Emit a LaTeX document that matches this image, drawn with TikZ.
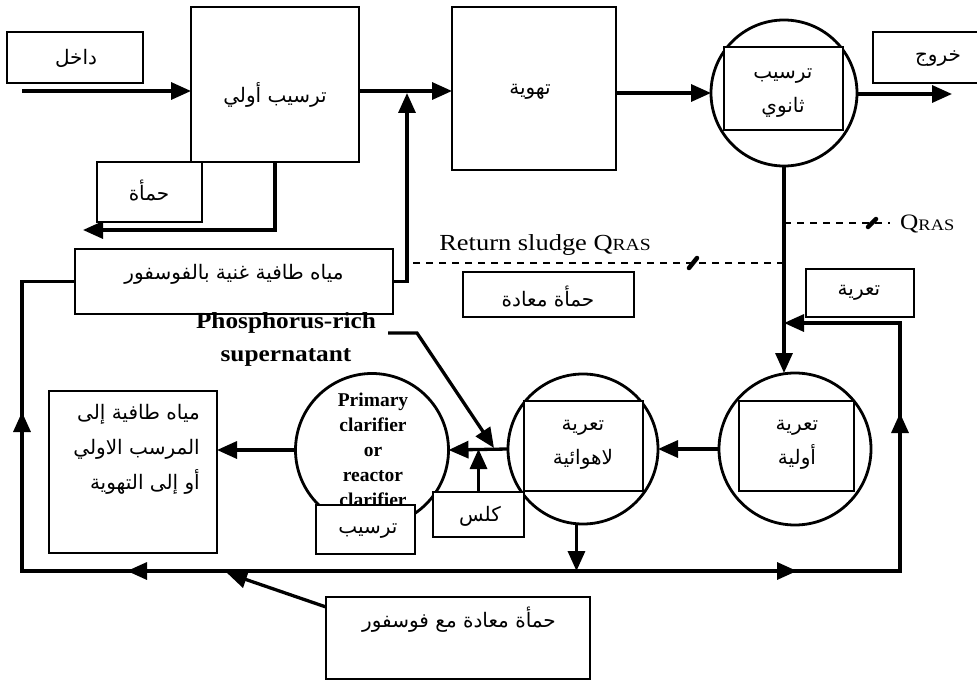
\documentclass[tikz,border=0pt]{standalone}
\usepackage{fontspec}
\usetikzlibrary{arrows.meta,calc}
\TeXXeTstate=1
\newfontfamily\arabicfont[Script=Arabic]{DejaVu Sans}
\newfontfamily\wideserif[FakeStretch=1.15]{Liberation Serif}
\newfontfamily\boldserif[FakeStretch=1.1]{Liberation Serif}
\newfontfamily\clarserif{Liberation Serif}
\newcommand\artxt[1]{\beginR #1\endR}

\tikzset{
  box/.style={draw, line width=1.7bp, fill=white, inner sep=0pt, outer sep=0pt},
  disc/.style={draw, circle, line width=2.8bp, inner sep=0pt, outer sep=0pt},
  wire/.style={line width=3.3bp},
  flow/.style={wire, -{Triangle[length=20bp,width=17bp]}},
  tiphead/.style={-{Triangle[length=20bp,width=17bp]}, line width=3.3bp},
  retline/.style={line width=2.8bp, dash pattern=on 7bp off 6bp},
  slash/.style={line width=4.5bp, line cap=round},
  ar/.style={font=\arabicfont\fontsize{20bp}{24bp}\selectfont, inner sep=0pt},
  ar2/.style={inner sep=0pt, align=center, font=\arabicfont\fontsize{20bp}{34bp}\selectfont},
}

\begin{document}
\begin{tikzpicture}[x=1bp, y=-1bp]
\useasboundingbox (0,0) rectangle (977,681);

% ---------- upper treatment line ----------
\node[box, minimum width=136bp, minimum height=51bp] (inlab) at (75,57.5) {};
\node[ar] (inlabt) at (76,58) {\artxt{داخل}};

\node[box, minimum width=168bp, minimum height=155bp] (prim) at (275,84.5) {};
\node[ar] (primt) at (275,95) {\artxt{ترسيب أولي}};

\node[box, minimum width=164bp, minimum height=163bp] (aer) at (534,88.5) {};
\node[ar] (aert) at (530,92) {\artxt{تهوية}};

\node[disc, minimum size=146bp] (sec) at (784,93) {};
\node[box, minimum width=119bp, minimum height=83bp] (secin) at (783.5,88.5) {};
\node[ar2] (sect) at (783,93) {\artxt{ترسيب}\\\artxt{ثانوي}};

\begin{scope}
  \clip (0,0) rectangle (977,681);
  \node[box, minimum width=130bp, minimum height=51bp] (outlab) at (938,57.5) {};
\end{scope}
\node[ar] (outlabt) at (938,59) {\artxt{خروج}};

% sludge box under the primary tank
\node[box, minimum width=105bp, minimum height=60bp] (sludge) at (149.5,192) {};
\node[ar] (sludget) at (149,191) {\artxt{حمأة}};

% main flow arrows
\coordinate (inS) at (22,91);
\coordinate (jP) at (407,93);
\coordinate (outE) at (952,94);
\draw[flow] (inS) -- (inS -| prim.west);
\draw[flow] (prim.east |- inS) -- (aer.west |- inS);
\draw[flow] (aer.east |- sec.west) -- (sec.west);
\draw[flow] (sec.east |- outE) -- (outE);

% sludge withdrawal
\coordinate (sdE) at (83,230);
\draw[flow] (prim.south) |- (sdE);

% ---------- phosphorus-rich supernatant return ----------
\node[box, minimum width=318bp, minimum height=65bp] (rich) at (234,281.5) {};
\node[ar] (richt) at (234,274) {\artxt{مياه طافية غنية بالفوسفور}};
\draw[flow] (rich.east) -| (jP);

% ---------- return sludge (dashed) ----------
\coordinate (rsL) at (407,263);
\coordinate (rsR) at (784,263);
\coordinate (qL) at (784,223);
\coordinate (qR) at (890,223);
\draw[retline] (rsR) -- (rsL);
\draw[retline] (qL) -- (qR);
\draw[slash] (689,268) -- (697,258);
\draw[slash] (868,227) -- (876,219);
\node[font=\wideserif\fontsize{23bp}{23bp}\selectfont, inner sep=0pt] (rstxt) at (545,245)
  {Return sludge Q\raisebox{-0.5bp}{\fontsize{17bp}{17bp}\selectfont RAS}};
\node[font=\wideserif\fontsize{22bp}{22bp}\selectfont, inner sep=0pt, anchor=west] (qtxt) at (900,224)
  {Q\raisebox{-0.5bp}{\fontsize{16bp}{16bp}\selectfont RAS}};

\node[box, minimum width=171bp, minimum height=45bp] (ras) at (548.5,294.5) {};
\node[ar] (rast) at (548,297) {\artxt{حمأة معادة}};

\node[box, minimum width=108bp, minimum height=48bp] (strlab) at (860,293) {};
\node[ar] (strlabt) at (859,293) {\artxt{تعرية}};

% ---------- lower stripping train ----------
\node[disc, minimum size=152bp] (strip) at (795,449) {};
\node[box, minimum width=115bp, minimum height=90bp] (stripin) at (796.5,446) {};
\node[ar2] (stript) at (797,445) {\artxt{تعرية}\\\artxt{أولية}};

\node[disc, minimum size=150bp] (anaer) at (583,449) {};
\node[box, minimum width=119bp, minimum height=90bp] (anaerin) at (583.5,446) {};
\node[ar2] (anaert) at (583,445) {\artxt{تعرية}\\\artxt{لاهوائية}};

\node[disc, minimum size=153bp] (clar) at (372,450) {};
\node[align=center, inner sep=0pt, font=\clarserif\bfseries\fontsize{19.5bp}{25bp}\selectfont] (clart) at (373,450)
  {Primary\\clarifier\\or\\reactor\\clarifier};
\node[box, minimum width=99bp, minimum height=49bp] (settle) at (365.5,529.5) {};
\node[ar] (settlet) at (368,531) {\artxt{ترسيب}};

\node[box, minimum width=91bp, minimum height=45bp] (lime) at (478.5,514.5) {};
\node[ar] (limet) at (480,516) {\artxt{كلس}};

\node[box, minimum width=168bp, minimum height=162bp] (surf) at (133,472) {};
\node[inner sep=0pt, align=right, anchor=north east, font=\arabicfont\fontsize{20bp}{35bp}\selectfont] (surft) at (200,404)
  {\artxt{مياه طافية إلى}\\\artxt{المرسب الاولي}\\\artxt{أو إلى التهوية}};

\node[box, minimum width=264bp, minimum height=82bp] (pbox) at (458,638) {};
\node[ar] (pboxt) at (459,620) {\artxt{حمأة معادة مع فوسفور}};

\node[inner sep=0pt, align=center, font=\boldserif\bfseries\fontsize{23bp}{33bp}\selectfont] (phos) at (286,339)
  {Phosphorus-rich\\supernatant};

% secondary clarifier underflow to the first stripper
\draw[flow] (sec.south) -- (sec.south |- strip.north);

% flows between the lower units
\draw[flow] (strip.west) -- (anaer.east);
\draw[flow] (anaer.west) -- (clar.east);
\draw[flow] (clar.west) -- (clar.west -| surf.east);
\draw[flow] (lime.north) -- (lime.north |- anaer.west);
\coordinate (phS) at (388,333);
\coordinate (phK) at (417,333);
\coordinate (phE) at (494,448);
\draw[flow] (phS) -- (phK) -- (phE);

% bottom collection loop
\coordinate (cBL) at (22,571);
\coordinate (cTL) at (22,281.5);
\coordinate (cBR) at (900,571);
\coordinate (cTR) at (900,323);
\coordinate (jS) at (784,323);
\coordinate (aDown) at (anaer.265 |- cBL);
\draw[flow] (anaer.265) -- (aDown);
\draw[wire] (aDown) -- (cBL) -- (cTL) -- (rich.west);
\draw[flow] (aDown) -- (cBR) -- (cTR) -- (jS);
\draw[tiphead] (150,571) -- (127,571);
\draw[tiphead] (22,436) -- (22,412);
\draw[tiphead] (775,571) -- (797,571);
\draw[tiphead] (900,437) -- (900,413);
\coordinate (pTip) at (227,573);
\draw[flow] ($(pbox.north west)+(0,10)$) -- (pTip);

\end{tikzpicture}
\end{document}
